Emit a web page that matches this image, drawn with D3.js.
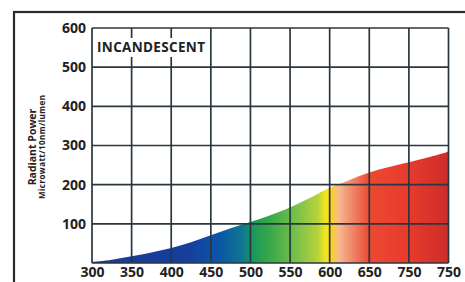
<!DOCTYPE html>
<html>
<head>
<meta charset="utf-8">
<script src="https://cdn.jsdelivr.net/npm/d3@7"></script>
<style>
  html, body { margin: 0; padding: 0; background: #fff; }
  svg text { font-family: "Open Sans", "DejaVu Sans", sans-serif; font-weight: bold; fill: #222; }
</style>
</head>
<body>
<div id="chart"></div>
<script>
// wavelength (nm) and radiant power
var wavelengths = [300, 325, 350, 375, 400, 425, 450, 475, 500, 525, 550, 575, 600, 625, 650, 675, 700, 725, 750];
var power       = [2,   8,   17,  27,  38,  53,  71,  89,  105, 122, 142, 166, 192, 212, 231, 245, 257, 270, 284];

var xTicks = [300, 350, 400, 450, 500, 550, 600, 650, 700, 750];
var xTickLabels = ["300", "350", "400", "450", "500", "550", "600", "650", "750", "750"];
var yTicks = [100, 200, 300, 400, 500, 600];

// spectrum colours along the x axis
var stopNm     = [300, 420, 460, 490, 505, 525, 560, 585, 595, 603, 612, 625, 650, 700, 750];
var stopColors = ["#1c3a94", "#163e9c", "#0b55a8", "#0e7890", "#1c9a5a", "#3aa84a", "#7cc24a", "#b6d23a",
                  "#f3e61e", "#fbd02c", "#f8b890", "#f29070", "#ea4a34", "#e83a2c", "#cc2e2a"];

var W = 465, H = 282;
var margin = { top: 28, right: 16, bottom: 19, left: 92 };

var svg = d3.select("#chart").append("svg")
    .attr("width", W)
    .attr("height", H);

// outer frame (runs off the picture on right and bottom)
svg.append("rect")
    .attr("x", 14).attr("y", 12)
    .attr("width", 480).attr("height", 300)
    .attr("fill", "none")
    .attr("stroke", "#2b2b2b")
    .attr("stroke-width", 2.2);

var x = d3.scaleLinear().domain([300, 750]).range([margin.left, W - margin.right - 0.5]);
var y = d3.scaleLinear().domain([0, 600]).range([H - margin.bottom, margin.top]);

// gradient
var grad = svg.append("defs").append("linearGradient")
    .attr("id", "spec")
    .attr("gradientUnits", "userSpaceOnUse")
    .attr("x1", x(300)).attr("x2", x(750))
    .attr("y1", 0).attr("y2", 0);
stopNm.forEach(function (nm, i) {
    grad.append("stop")
        .attr("offset", (nm - 300) / 450)
        .attr("stop-color", stopColors[i]);
});

var area = d3.area()
    .x(function (d, i) { return x(wavelengths[i]); })
    .y0(y(0))
    .y1(function (d) { return y(d); })
    .curve(d3.curveCatmullRom.alpha(0.5));

svg.append("path")
    .datum(power)
    .attr("d", area)
    .attr("fill", "url(#spec)");

// grid
var gridColor = "#2a373e";
svg.append("g")
    .selectAll("line.v")
    .data(xTicks)
    .enter().append("line")
    .attr("x1", function (d) { return x(d); })
    .attr("x2", function (d) { return x(d); })
    .attr("y1", y(600))
    .attr("y2", y(0))
    .attr("stroke", gridColor)
    .attr("stroke-width", 1.7);

svg.append("g")
    .selectAll("line.h")
    .data([0].concat(yTicks))
    .enter().append("line")
    .attr("x1", x(300))
    .attr("x2", x(750))
    .attr("y1", function (d) { return y(d); })
    .attr("y2", function (d) { return y(d); })
    .attr("stroke", gridColor)
    .attr("stroke-width", 1.7);

// title box
svg.append("rect")
    .attr("x", x(300) + 1.5).attr("y", 38)
    .attr("width", 116).attr("height", 19)
    .attr("fill", "#fff");
svg.append("text")
    .attr("x", 97).attr("y", 52)
    .style("font-size", "13.5px")
    .attr("textLength", 108)
    .text("INCANDESCENT");

// axes
var yAxis = d3.axisLeft(y).tickValues(yTicks).tickSize(0).tickPadding(6);
var gy = svg.append("g")
    .attr("transform", "translate(" + margin.left + ",0)")
    .call(yAxis);
gy.select(".domain").remove();
gy.selectAll("text").style("font-size", "14px").attr("fill", "#222");

var xAxis = d3.axisBottom(x).tickValues(xTicks).tickSize(0).tickPadding(4)
    .tickFormat(function (d, i) { return xTickLabels[i]; });
var gx = svg.append("g")
    .attr("transform", "translate(0," + y(0) + ")")
    .call(xAxis);
gx.select(".domain").remove();
gx.selectAll("text").style("font-size", "14px").attr("fill", "#222");

// axis title
svg.append("text")
    .attr("transform", "translate(36,147) rotate(-90)")
    .attr("text-anchor", "middle")
    .style("font-size", "10.5px")
    .text("Radiant Power");
svg.append("text")
    .attr("transform", "translate(45,147) rotate(-90)")
    .attr("text-anchor", "middle")
    .style("font-size", "8px")
    .attr("textLength", 104)
    .text("Microwatt/10nm/lumen");
</script>
</body>
</html>
